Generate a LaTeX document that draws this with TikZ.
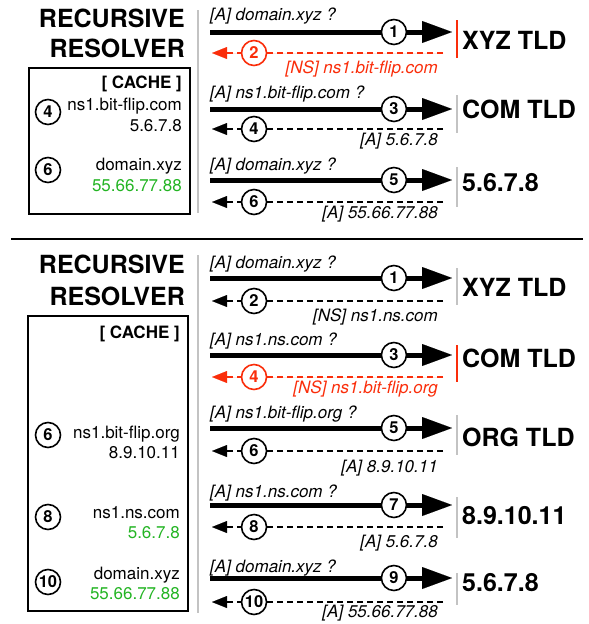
\documentclass[tikz,border=0pt]{standalone}
\usepackage{fontspec}
\setmainfont{TeX Gyre Heros}
\usetikzlibrary{arrows.meta}
\definecolor{flipred}{RGB}{250,45,10}
\definecolor{okgreen}{RGB}{35,180,35}
\definecolor{bargray}{RGB}{195,195,195}
\begin{document}
\begin{tikzpicture}[x=1pt,y=-1pt,
  qline/.style={line width=5pt,-{Triangle[length=30pt,width=22pt,line width=0.01pt]}},
  rline/.style={line width=2.2pt,dash pattern=on 6pt off 4pt,-{Triangle[length=15pt,width=12pt,line width=0.01pt]}},
  num/.style={circle,draw,solid,line width=1.6pt,fill=white,minimum size=25pt,inner sep=0pt,font=\fontsize{16.5}{16.5}\selectfont\bfseries},
  qlab/.style={anchor=base west,inner sep=0pt,font=\fontsize{17}{18}\selectfont\itshape},
  rlab/.style={anchor=base east,inner sep=0pt,font=\fontsize{17}{18}\selectfont\itshape},
  srv/.style={anchor=base west,inner sep=0pt,font=\fontsize{25}{25}\selectfont\bfseries},
  ttl/.style={anchor=base east,inner sep=0pt,font=\fontsize{25}{25}\selectfont\bfseries},
  ctxt/.style={anchor=base east,inner sep=0pt,font=\fontsize{17}{17}\selectfont},
  chead/.style={anchor=base east,inner sep=0pt,font=\fontsize{17}{17}\selectfont\bfseries},
  bar/.style={line width=2.5pt,draw=bargray},
  redbar/.style={line width=2.5pt,draw=flipred},
  sep/.style={line width=2.5pt},
  cachebox/.style={draw,line width=1.5pt},
]
\useasboundingbox (0,0) rectangle (589,624);

% ================= TOP =================
\node[ttl] (t1a) at (185,27) {RECURSIVE};
\node[ttl] (t1b) at (185,57) {RESOLVER};
\draw[bar] (198,10) coordinate (rl1a) -- (198,213) coordinate (rl1b);
\draw[cachebox] (29,68) rectangle (190,214);
\node[chead] (ch1) at (182,88) {[ CACHE ]};
\node[num] (c1n4) at (48,112) {4};
\node[ctxt] (c1a) at (182,110) {ns1.bit-flip.com};
\node[ctxt] (c1b) at (182,131) {5.6.7.8};
\node[num] (c1n6) at (48,170) {6};
\node[ctxt] (c1c) at (182,170) {domain.xyz};
\node[ctxt,text=okgreen] (c1d) at (182,191) {55.66.77.88};

% row 1
\node[qlab] (qa1) at (210,20) {[A] domain.xyz ?};
\coordinate (a1s) at (210,32); \coordinate (a1e) at (452,32);
\draw[qline] (a1s) -- (a1e) node[num,pos=0.76] (n1) {1};
\coordinate (b1s) at (443,53); \coordinate (b1e) at (212,53);
\draw[rline,draw=flipred,fill=flipred] (b1s) -- (b1e) node[num,pos=0.818,draw=flipred,fill=white,text=flipred] (n2) {2};
\node[rlab,text=flipred] (ra1) at (438,73) {[NS] ns1.bit-flip.com};
\draw[redbar] (457,20) coordinate (s1a) -- (457,58) coordinate (s1b);
\node[srv] (srv1) at (462,49) {XYZ TLD};

% row 2
\node[qlab] (qa2) at (210,98) {[A] ns1.bit-flip.com ?};
\coordinate (a2s) at (210,109); \coordinate (a2e) at (452,109);
\draw[qline] (a2s) -- (a2e) node[num,pos=0.76] (n3) {3};
\coordinate (b2s) at (443,129); \coordinate (b2e) at (212,129);
\draw[rline] (b2s) -- (b2e) node[num,pos=0.818] (n4) {4};
\node[rlab] (ra2) at (438,145) {[A] 5.6.7.8};
\draw[bar] (457,95) coordinate (s2a) -- (457,133) coordinate (s2b);
\node[srv] (srv2) at (462,118) {COM TLD};

% row 3
\node[qlab] (qa3) at (210,170) {[A] domain.xyz ?};
\coordinate (a3s) at (210,180); \coordinate (a3e) at (452,180);
\draw[qline] (a3s) -- (a3e) node[num,pos=0.76] (n5) {5};
\coordinate (b3s) at (443,202); \coordinate (b3e) at (212,202);
\draw[rline] (b3s) -- (b3e) node[num,pos=0.818] (n6) {6};
\node[rlab] (ra3) at (438,218) {[A] 55.66.77.88};
\draw[bar] (457,167) coordinate (s3a) -- (457,207) coordinate (s3b);
\node[srv] (srv3) at (462,191) {5.6.7.8};

% separator
\draw[sep] (11,239) coordinate (sepa) -- (583,239) coordinate (sepb);

% ================= BOTTOM =================
\node[ttl] (t2a) at (185,273) {RECURSIVE};
\node[ttl] (t2b) at (185,305) {RESOLVER};
\draw[bar] (198,255) coordinate (rl2a) -- (198,613) coordinate (rl2b);
\draw[cachebox] (28,316) rectangle (188,611);
\node[chead] (ch2) at (180,338) {[ CACHE ]};
\node[num] (c2n6) at (48,435) {6};
\node[ctxt] (c2a) at (180,438) {ns1.bit-flip.org};
\node[ctxt] (c2b) at (180,458) {8.9.10.11};
\node[num] (c2n8) at (48,517) {8};
\node[ctxt] (c2c) at (180,518) {ns1.ns.com};
\node[ctxt,text=okgreen] (c2d) at (180,538) {5.6.7.8};
\node[num] (c2n10) at (48,582) {10};
\node[ctxt] (c2e) at (180,579) {domain.xyz};
\node[ctxt,text=okgreen] (c2f) at (180,599) {55.66.77.88};

% row 1
\node[qlab] (qb1) at (210,268) {[A] domain.xyz ?};
\coordinate (d1s) at (210,278); \coordinate (d1e) at (452,278);
\draw[qline] (d1s) -- (d1e) node[num,pos=0.76] (m1) {1};
\coordinate (e1s) at (443,301); \coordinate (e1e) at (212,301);
\draw[rline] (e1s) -- (e1e) node[num,pos=0.818] (m2) {2};
\node[rlab] (rb1) at (438,321) {[NS] ns1.ns.com};
\draw[bar] (457,268) coordinate (u1a) -- (457,305) coordinate (u1b);
\node[srv] (srv4) at (462,296) {XYZ TLD};

% row 2
\node[qlab] (qb2) at (210,345) {[A] ns1.ns.com ?};
\coordinate (d2s) at (210,355); \coordinate (d2e) at (452,355);
\draw[qline] (d2s) -- (d2e) node[num,pos=0.76] (m3) {3};
\coordinate (e2s) at (443,377); \coordinate (e2e) at (212,377);
\draw[rline,draw=flipred,fill=flipred] (e2s) -- (e2e) node[num,pos=0.818,draw=flipred,fill=white,text=flipred] (m4) {4};
\node[rlab,text=flipred] (rb2) at (438,393) {[NS] ns1.bit-flip.org};
\draw[redbar] (457,345) coordinate (u2a) -- (457,382) coordinate (u2b);
\node[srv] (srv5) at (462,367) {COM TLD};

% row 3
\node[qlab] (qb3) at (210,418) {[A] ns1.bit-flip.org ?};
\coordinate (d3s) at (210,428); \coordinate (d3e) at (452,428);
\draw[qline] (d3s) -- (d3e) node[num,pos=0.76] (m5) {5};
\coordinate (e3s) at (443,451); \coordinate (e3e) at (212,451);
\draw[rline] (e3s) -- (e3e) node[num,pos=0.818] (m6) {6};
\node[rlab] (rb3) at (438,472) {[A] 8.9.10.11};
\draw[bar] (457,415) coordinate (u3a) -- (457,455) coordinate (u3b);
\node[srv] (srv6) at (462,446) {ORG TLD};

% row 4
\node[qlab] (qb4) at (210,497) {[A] ns1.ns.com ?};
\coordinate (d4s) at (210,505); \coordinate (d4e) at (452,505);
\draw[qline] (d4s) -- (d4e) node[num,pos=0.76] (m7) {7};
\coordinate (e4s) at (443,527); \coordinate (e4e) at (212,527);
\draw[rline] (e4s) -- (e4e) node[num,pos=0.818] (m8) {8};
\node[rlab] (rb4) at (438,547) {[A] 5.6.7.8};
\draw[bar] (457,497) coordinate (u4a) -- (457,538) coordinate (u4b);
\node[srv] (srv7) at (462,524) {8.9.10.11};

% row 5
\node[qlab] (qb5) at (210,572) {[A] domain.xyz ?};
\coordinate (d5s) at (210,578); \coordinate (d5e) at (452,578);
\draw[qline] (d5s) -- (d5e) node[num,pos=0.76] (m9) {9};
\coordinate (e5s) at (443,602); \coordinate (e5e) at (212,602);
\draw[rline] (e5s) -- (e5e) node[num,pos=0.818] (m10) {10};
\node[rlab] (rb5) at (438,617) {[A] 55.66.77.88};
\draw[bar] (457,573) coordinate (u5a) -- (457,605) coordinate (u5b);
\node[srv] (srv8) at (462,591) {5.6.7.8};
\end{tikzpicture}
\end{document}
